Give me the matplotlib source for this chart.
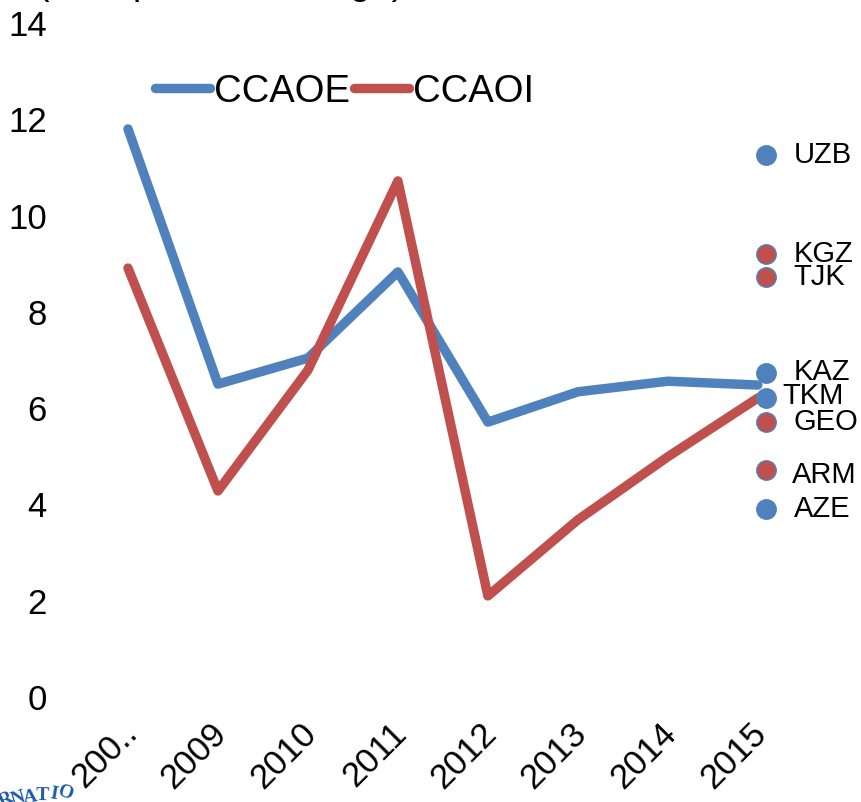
import numpy as np
import matplotlib.pyplot as plt
from matplotlib.transforms import ScaledTranslation

plt.rcParams['font.family'] = ['Liberation Sans', 'DejaVu Sans']

# data
years = ['200..', '2009', '2010', '2011', '2012', '2013', '2014', '2015']
ccaoe = [11.8, 6.5, 7.04, 8.83, 5.71, 6.34, 6.56, 6.48]
ccaoi = [8.91, 4.28, 6.79, 10.72, 2.10, 3.68, 4.99, 6.21]

countries = ['UZB', 'KGZ', 'TJK', 'KAZ', 'TKM', 'GEO', 'ARM', 'AZE']
country_vals = [11.26, 9.2, 8.72, 6.73, 6.21, 5.71, 4.72, 3.91]
country_group = ['OE', 'OI', 'OI', 'OE', 'OE', 'OI', 'OI', 'OE']

blue = '#4F81BD'
red = '#C0504D'

fig = plt.figure(figsize=(8.61, 8.02), dpi=100)
ax = fig.add_axes([0.0964, 0.1309, 0.836, 0.8404])

x = np.arange(len(years))
ax.plot(x, ccaoe, color=blue, lw=6.8, solid_capstyle='round',
        solid_joinstyle='round', label='CCAOE')
ax.plot(x, ccaoi, color=red, lw=6.8, solid_capstyle='round',
        solid_joinstyle='round', label='CCAOI')

# country dots for 2015
dot_x = x[-1] + 0.09
for name, v, g in zip(countries, country_vals, country_group):
    c = blue if g == 'OE' else red
    ax.plot(dot_x, v, 'o', ms=14, color=c, mec=blue, mew=1, clip_on=False, zorder=5)

# label nudges
nudge_x = {'TKM': -0.13, 'ARM': -0.02}
nudge_y = {'ARM': -0.1, 'TKM': 0.04, 'KAZ': 0.02}
for name, v in zip(countries, country_vals):
    ax.text(dot_x + 0.31 + nudge_x.get(name, 0), v + nudge_y.get(name, 0), name,
            fontsize=21, va='center', ha='left', clip_on=False)

ax.set_xlim(-0.5, 7.5)
ax.set_ylim(0, 14)
ax.set_yticks(range(0, 15, 2))
ax.set_xticks(x)
ax.set_xticklabels(years, rotation=45, ha='right', rotation_mode='anchor')
ax.tick_params(axis='y', length=0, pad=26, labelsize=25)
ax.tick_params(axis='x', length=0, pad=14, labelsize=25)
shift = ScaledTranslation(-8 / 100, 0, fig.dpi_scale_trans)
for lab in ax.get_xticklabels():
    lab.set_transform(lab.get_transform() + shift)
for s in ax.spines.values():
    s.set_visible(False)

leg = ax.legend(ncol=2, frameon=False, loc='center left',
                bbox_to_anchor=(0.1, 0.898), fontsize=27.5,
                handlelength=1.45, handletextpad=0.1, columnspacing=0.1,
                borderpad=0, borderaxespad=0)

# clipped title at top edge
fig.text(37 / 861, 1 + 6 / 802, '(CPI, percent change)', fontsize=27,
         va='baseline', ha='left')

# partial logo text at bottom-left
logo = 'RNATIO'
for i, ch in enumerate(logo):
    ang = 26 - i * 9
    fig.text((6 + i * 12) / 861, (2 + i * 1.4) / 802, ch, fontsize=14,
             fontweight='bold', family='Liberation Serif', color='#1F5AA6',
             rotation=ang, ha='center', va='center')

fig.savefig('out.png', dpi=100)
